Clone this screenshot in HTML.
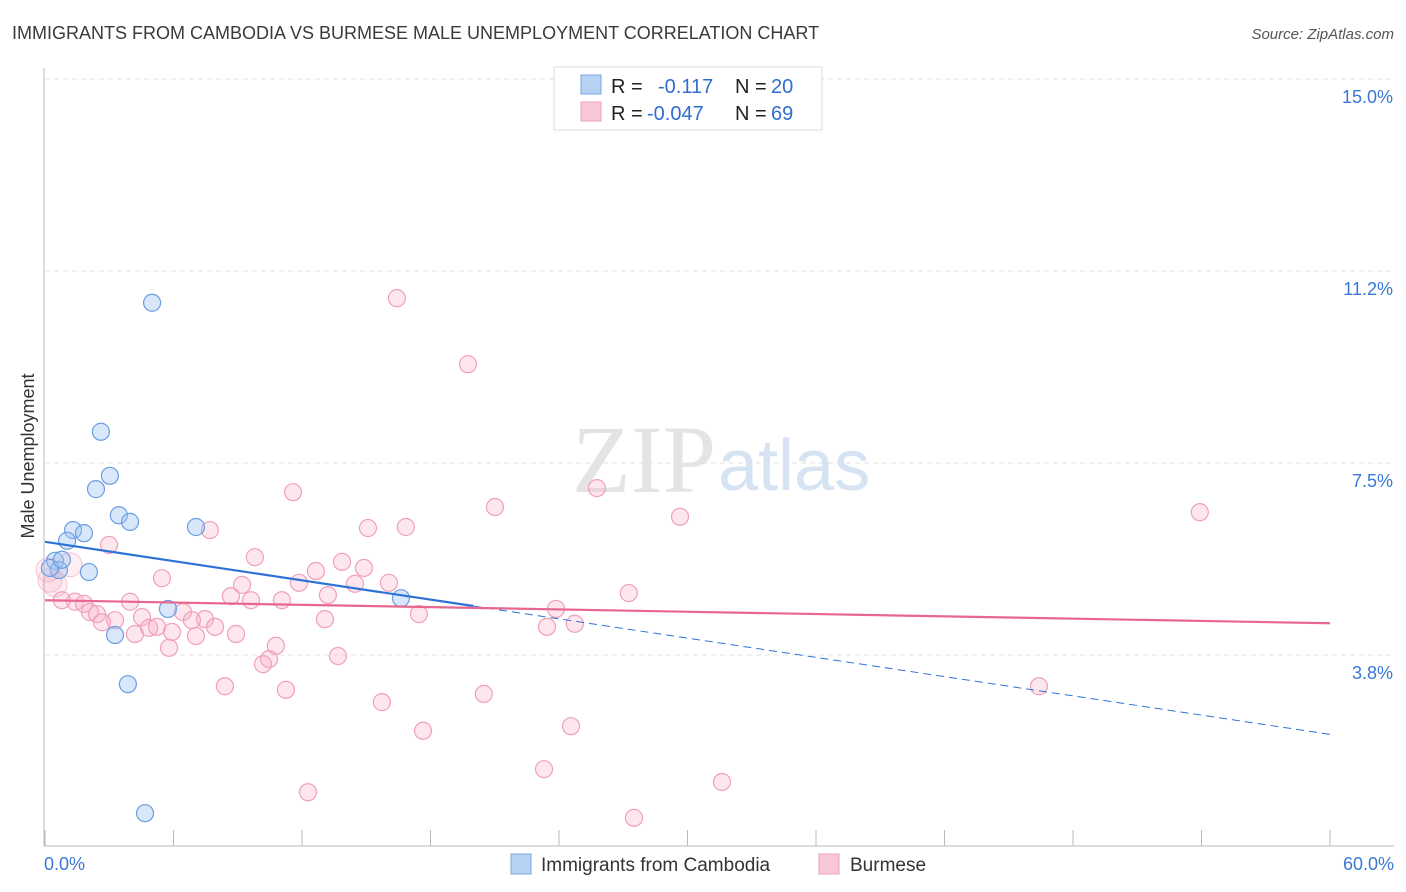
<!DOCTYPE html>
<html><head><meta charset="utf-8"><style>
body{margin:0;background:#fff;font-family:"Liberation Sans",sans-serif;}
#wrap{position:relative;width:1406px;height:892px;overflow:hidden;}
</style></head><body><div id="wrap">
<svg id="svg" width="1406" height="892" xmlns="http://www.w3.org/2000/svg">
<text x="12" y="39" font-size="18" fill="#3a3a3a">IMMIGRANTS FROM CAMBODIA VS BURMESE MALE UNEMPLOYMENT CORRELATION CHART</text>
<text x="1394" y="39" font-size="15" fill="#555" font-style="italic" text-anchor="end">Source: ZipAtlas.com</text>
<text x="716" y="492" font-size="96" fill="#e4e4e4" text-anchor="end" font-family="Liberation Serif,serif">ZIP</text>
<text x="718" y="490" font-size="72" fill="#d6e3f3">atlas</text>
<text transform="translate(34,456) rotate(-90)" font-size="18" fill="#333" text-anchor="middle">Male Unemployment</text>
<g id="grid"></g><g id="pts"></g><g id="lines"></g>
<rect x="554" y="67" width="268" height="63" fill="#fff" stroke="#ddd"/>
<rect x="581" y="75" width="20" height="19" fill="#b7d1f3" stroke="#7aa6e3"/>
<rect x="581" y="102" width="20" height="19" fill="#f9c8d7" stroke="#eea0b8"/>
<text y="93" font-size="20"><tspan x="611" fill="#222">R = </tspan><tspan x="658" fill="#2f6ed0">-0.117</tspan><tspan x="735" fill="#222">N = </tspan><tspan x="771" fill="#2f6ed0">20</tspan></text>
<text y="120" font-size="20"><tspan x="611" fill="#222">R = </tspan><tspan x="647" fill="#2f6ed0">-0.047</tspan><tspan x="735" fill="#222">N = </tspan><tspan x="771" fill="#2f6ed0">69</tspan></text>
<rect x="511" y="854" width="20" height="20" fill="#b7d1f3" stroke="#7aa6e3"/>
<text x="541" y="871" font-size="19" fill="#333">Immigrants from Cambodia</text>
<rect x="819" y="854" width="20" height="20" fill="#f9c8d7" stroke="#eea0b8"/>
<text x="850" y="871" font-size="19" fill="#333">Burmese</text>
</svg></div>
<script>
const yTicks=[3.75,7.5,11.25,15];
const yTickLabels=["3.8%","7.5%","11.2%","15.0%"];
const xTickLabels=["0.0%","60.0%"];
const cambX=[5.0,2.61,3.03,2.38,3.45,3.97,7.05,1.31,1.82,1.03,0.47,0.65,2.05,5.74,16.62,3.27,3.87,4.67,0.23,0.79];
const cambY=[10.63,8.11,7.25,6.99,6.48,6.35,6.25,6.19,6.13,5.98,5.59,5.41,5.37,4.65,4.86,4.14,3.18,0.66,5.45,5.61];
const burX=[16.43,19.75,11.58,25.77,21.01,29.65,53.92,7.70,15.08,16.85,2.99,9.80,13.87,12.65,14.89,5.46,9.20,11.86,16.06,14.47,27.26,8.68,9.62,11.06,13.21,3.97,1.40,1.82,0.79,2.10,2.43,6.44,23.86,17.46,13.07,7.47,6.86,3.27,4.53,2.66,4.86,5.23,7.94,23.44,24.74,5.93,8.92,4.20,7.05,10.78,5.79,13.68,10.46,10.18,8.40,11.25,20.49,15.73,46.41,17.65,24.56,23.30,31.61,12.28,27.50,0.23,1.17,0.47,0.14];
const burY=[10.72,9.43,6.93,7.01,6.64,6.45,6.54,6.19,6.23,6.25,5.90,5.66,5.57,5.39,5.45,5.25,5.12,5.16,5.16,5.14,4.96,4.90,4.82,4.82,4.92,4.79,4.79,4.75,4.82,4.59,4.55,4.59,4.65,4.55,4.45,4.45,4.43,4.43,4.49,4.39,4.28,4.30,4.30,4.30,4.36,4.20,4.16,4.16,4.12,3.93,3.89,3.73,3.67,3.57,3.14,3.07,2.99,2.83,3.14,2.27,2.36,1.52,1.27,1.07,0.57,5.21,5.51,5.12,5.41];
const cambTrend=[5.96,2.2];
const burTrend=[4.82,4.37];
const cambSolidEnd=20;
const NS="http://www.w3.org/2000/svg";
const X=v=>45+v*(1285/60), Y=v=>847-v*51.2;
function mk(tag,attrs,parent){const e=document.createElementNS(NS,tag);for(const k in attrs)e.setAttribute(k,attrs[k]);document.getElementById(parent).appendChild(e);return e;}
yTicks.forEach((t,i)=>{
 const g=mk('line',{x1:45,x2:1394,y1:Y(t),y2:Y(t),stroke:'#e2e2e2','stroke-dasharray':'5,4'},'grid');
 
 
 const l=mk('text',{x:1393,y:Y(t)+24,'font-size':18,fill:'#3a78d4','text-anchor':'end'},'grid');
 l.textContent=yTickLabels[i];
 
 
});
const ax=mk('line',{x1:44,x2:44,y1:68,y2:846,stroke:'#bbb'},'grid');


const bx=mk('line',{x1:44,x2:1394,y1:846,y2:846,stroke:'#bbb'},'grid');


for(let i=0;i<=10;i++){const t=mk('line',{x1:X(i*6),x2:X(i*6),y1:830,y2:846,stroke:'#bbb'},'grid');
 
 }
[[0,44,'start'],[60,1394,'end']].forEach((d,i)=>{const t=mk('text',{x:d[1],y:870,'font-size':18,fill:'#3a78d4','text-anchor':d[2]},'grid');t.textContent=xTickLabels[i];
 
 });
burX.forEach((x,i)=>{const big=i>=65;const c=mk('circle',{cx:X(x),cy:Y(burY[i]),r:big?12:8.5,fill:big?'rgba(247,172,196,0.2)':'rgba(247,172,196,0.3)',stroke:big?'rgba(240,160,186,0.5)':'#f0a0ba','stroke-width':1.2},'pts');
 
 });
cambX.forEach((x,i)=>{const c=mk('circle',{cx:X(x),cy:Y(cambY[i]),r:8.5,fill:'rgba(160,196,242,0.4)',stroke:'#6b9de0','stroke-width':1.2},'pts');
 
 });
const cy=x=>cambTrend[0]+(cambTrend[1]-cambTrend[0])*x/60;
const l1=mk('line',{x1:X(0),y1:Y(cy(0)),x2:X(cambSolidEnd),y2:Y(cy(cambSolidEnd)),stroke:'#2e72d6','stroke-width':2.2},'lines');


const l2=mk('line',{x1:X(cambSolidEnd),y1:Y(cy(cambSolidEnd)),x2:X(60),y2:Y(cy(60)),stroke:'#2e72d6','stroke-width':1,'stroke-dasharray':'8,5'},'lines');


const l3=mk('line',{x1:X(0),y1:Y(burTrend[0]),x2:X(60),y2:Y(burTrend[1]),stroke:'#e8678f','stroke-width':2.2},'lines');


</script></body></html>
